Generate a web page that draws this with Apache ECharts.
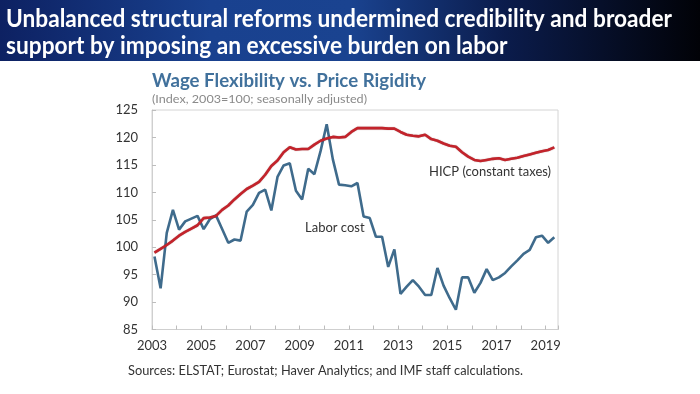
<!DOCTYPE html>
<html>
<head>
<meta charset="utf-8">
<script src="https://cdn.jsdelivr.net/npm/echarts@6/dist/echarts.min.js"></script>
<style>
html,body{margin:0;padding:0;background:#fff;}
#chart{width:700px;height:394px;}
</style>
</head>
<body>
<div id="chart"></div>
<script>
// Quarterly observations, 2003Q1 .. 2019Q2
const firstYear = 2003;
const quarterCount = 66;
const laborCost = [
  98.3, 92.5, 102.6, 106.8, 103.2, 104.7, 105.2, 105.7,
  103.3, 105.1, 105.8, 103.3, 100.8, 101.4, 101.2, 106.5,
  107.7, 109.9, 110.5, 106.7, 112.8, 114.9, 115.3, 110.3,
  108.7, 114.3, 113.3, 117.5, 122.4, 116.0, 111.4, 111.3,
  111.1, 111.7, 105.6, 105.3, 101.9, 101.9, 96.4, 99.6,
  91.5, 92.8, 94.0, 92.8, 91.3, 91.3, 96.2, 93.0,
  90.7, 88.6, 94.5, 94.5, 91.7, 93.5, 96.0, 94.0,
  94.5, 95.3, 96.5, 97.6, 98.8, 99.5, 101.8, 102.1,
  100.8, 101.8
];
const hicp = [
  99.0, 99.7, 100.4, 101.2, 102.1, 102.8, 103.4, 104.0,
  105.3, 105.4, 105.7, 106.8, 107.6, 108.7, 109.7, 110.6,
  111.2, 111.9, 113.2, 114.8, 115.8, 117.3, 118.2, 117.8,
  117.9, 117.9, 118.7, 119.4, 119.8, 120.1, 120.0, 120.1,
  121.0, 121.7, 121.7, 121.7, 121.7, 121.7, 121.6, 121.6,
  121.0, 120.5, 120.3, 120.2, 120.5, 119.7, 119.4, 118.9,
  118.5, 118.3, 117.3, 116.5, 115.9, 115.7, 115.9, 116.1,
  116.2, 115.9, 116.1, 116.3, 116.6, 116.9, 117.2, 117.5,
  117.7, 118.2
];
const yTicks = [85, 90, 95, 100, 105, 110, 115, 120, 125];
const xTickLabels = [2003, 2005, 2007, 2009, 2011, 2013, 2015, 2017, 2019];

const headerLines = [
  'Unbalanced structural reforms undermined credibility and broader',
  'support by imposing an excessive burden on labor'
];
const titleText = 'Wage Flexibility vs. Price Rigidity';
const subtitleText = '(Index, 2003=100; seasonally adjusted)';
const sourceText = 'Sources: ELSTAT; Eurostat; Haver Analytics; and IMF staff calculations.';
const laborLabel = 'Labor cost';
const hicpLabel = 'HICP (constant taxes)';

// x position of each quarter (plotted slightly inside the quarter)
const xPos = [];
for (let i = 0; i < quarterCount; i++) xPos.push(firstYear + i * 0.25 + 0.1);
const laborData = laborCost.map((v, i) => [xPos[i], v]);
const hicpData = hicp.map((v, i) => [xPos[i], v]);

function fitScale(text, font, target) {
  const c = document.createElement('canvas').getContext('2d');
  c.font = font;
  return target / c.measureText(text).width;
}
const FF = 'Lato, "Open Sans", sans-serif';
const hScale = fitScale(headerLines[0], 'bold 24px Lato', 666);
const tScale = fitScale(titleText, 'bold 18px Lato', 274);
const sScale = fitScale(subtitleText, '12px Lato', 215);
const srcScale = fitScale(sourceText, '12.5px Lato', 395);

const chart = echarts.init(document.getElementById('chart'), null, {renderer: 'canvas'});
chart.setOption({
  animation: false,
  backgroundColor: '#ffffff',
  grid: {left: 152, right: 142, top: 110, bottom: 64.5, show: true, borderColor: '#d4d4d4', borderWidth: 1},
  xAxis: {
    type: 'value', min: 2003, max: 2019.5, interval: 1,
    axisLine: {show: true, lineStyle: {color: '#cfcfcf', width: 1}},
    axisTick: {show: true, inside: true, length: 4, lineStyle: {color: '#bdbdbd'}},
    splitLine: {show: false},
    axisLabel: {
      color: '#333', fontSize: 13, fontFamily: FF, margin: 10,
      formatter: v => xTickLabels.indexOf(v) >= 0 ? String(v) : ''
    }
  },
  yAxis: {
    type: 'value', min: 85, max: 125, interval: 5,
    axisLine: {show: true, lineStyle: {color: '#cfcfcf', width: 1}},
    axisTick: {show: true, inside: true, length: 4, lineStyle: {color: '#bdbdbd'}},
    splitLine: {show: false},
    axisLabel: {color: '#333', fontSize: 13, fontFamily: FF, margin: 14,
      formatter: v => yTicks.indexOf(v) >= 0 ? String(v) : ''}
  },
  series: [
    {name: 'Labor cost', type: 'line', data: laborData, showSymbol: false, symbol: 'none',
     lineStyle: {color: '#3f6b8c', width: 2.6}, z: 2},
    {name: 'HICP', type: 'line', data: hicpData, showSymbol: false, symbol: 'none',
     lineStyle: {color: '#c3232b', width: 2.6, shadowColor: 'rgba(90,0,0,0.5)', shadowBlur: 1}, z: 3}
  ],
  graphic: [
    {type: 'rect', left: 0, top: 0, z: 0, silent: true,
     shape: {x: 0, y: 0, width: 700, height: 61},
     style: {fill: new echarts.graphic.LinearGradient(0, 0, 1, 0, [
       {offset: 0, color: '#0d2162'},
       {offset: 0.3, color: '#19418f'},
       {offset: 0.5, color: '#1a4390'},
       {offset: 0.72, color: '#0b1c4c'},
       {offset: 1, color: '#010207'}
     ])}},
    {type: 'text', x: 6, y: 19, z: 10, scaleX: hScale, silent: true,
     style: {text: headerLines[0], fill: '#ffffff', font: 'bold 24px Lato', textVerticalAlign: 'middle',
       shadowColor: 'rgba(0,0,0,0.6)', shadowBlur: 2, shadowOffsetX: 1, shadowOffsetY: 1}},
    {type: 'text', x: 6, y: 46, z: 10, scaleX: hScale, silent: true,
     style: {text: headerLines[1], fill: '#ffffff', font: 'bold 24px Lato', textVerticalAlign: 'middle',
       shadowColor: 'rgba(0,0,0,0.6)', shadowBlur: 2, shadowOffsetX: 1, shadowOffsetY: 1}},
    {type: 'text', x: 152, y: 81, z: 10, scaleX: tScale, silent: true,
     style: {text: titleText, fill: '#41719c', font: 'bold 18px Lato', textVerticalAlign: 'middle'}},
    {type: 'text', x: 152, y: 99, z: 10, scaleX: sScale, silent: true,
     style: {text: subtitleText, fill: '#8a8a8a', font: '12px Lato', textVerticalAlign: 'middle'}},
    {type: 'text', x: 128, y: 371, z: 10, scaleX: srcScale, silent: true,
     style: {text: sourceText, fill: '#333333', font: '12.5px Lato', textVerticalAlign: 'middle'}},
    {type: 'text', x: 305, y: 228, z: 10, silent: true,
     style: {text: laborLabel, fill: '#333333', font: '13px Lato', textVerticalAlign: 'middle'}},
    {type: 'text', x: 429, y: 172, z: 10, silent: true,
     style: {text: hicpLabel, fill: '#333333', font: '13px Lato', textVerticalAlign: 'middle'}}
  ]
});
</script>
</body>
</html>
